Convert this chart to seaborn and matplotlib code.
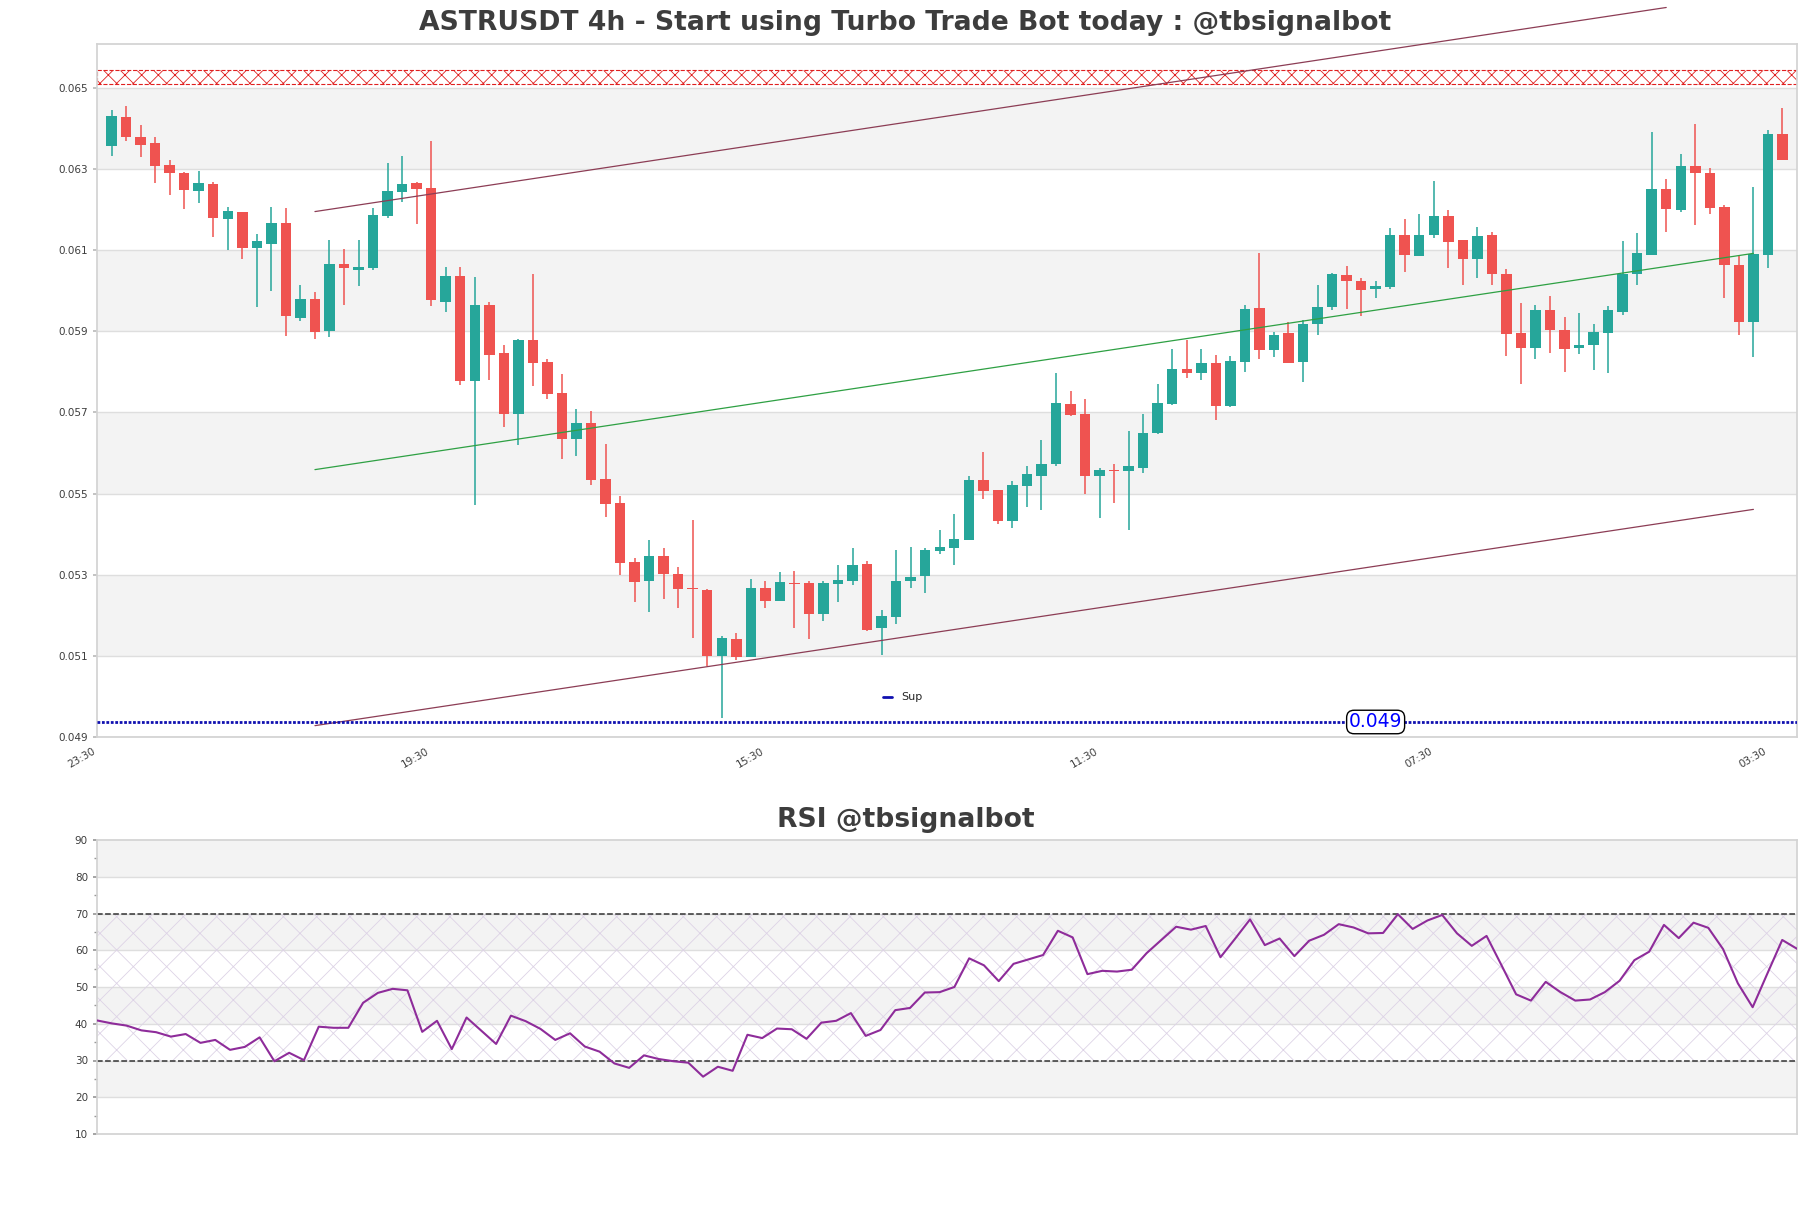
import numpy as np
import pandas as pd
import seaborn as sns
import matplotlib
matplotlib.use('Agg')
from matplotlib import pyplot as plt
from matplotlib.lines import Line2D
from matplotlib.ticker import MultipleLocator

# candles (4h)
opens = [0.06356, 0.06428, 0.06380, 0.06363, 0.06309, 0.06291, 0.06245, 0.06262, 0.06177, 0.06193,
         0.06104, 0.06114, 0.06166, 0.05933, 0.05979, 0.05900, 0.06065, 0.06051, 0.06055, 0.06184,
         0.06243, 0.06265, 0.06252, 0.05971, 0.06035, 0.05777, 0.05964, 0.05846, 0.05696, 0.05878,
         0.05824, 0.05747, 0.05635, 0.05674, 0.05536, 0.05477, 0.05332, 0.05284, 0.05346, 0.05301,
         0.05268, 0.05263, 0.05100, 0.05142, 0.05096, 0.05267, 0.05235, 0.05280, 0.05280, 0.05204,
         0.05278, 0.05284, 0.05326, 0.05168, 0.05195, 0.05284, 0.05296, 0.05359, 0.05367, 0.05386,
         0.05534, 0.05508, 0.05433, 0.05518, 0.05543, 0.05572, 0.05721, 0.05696, 0.05544, 0.05559,
         0.05556, 0.05564, 0.05650, 0.05721, 0.05807, 0.05796, 0.05822, 0.05715, 0.05825, 0.05957,
         0.05855, 0.05896, 0.05825, 0.05917, 0.05960, 0.06038, 0.06025, 0.06003, 0.06009, 0.06138,
         0.06086, 0.06138, 0.06183, 0.06124, 0.06078, 0.06138, 0.06042, 0.05896, 0.05859, 0.05952,
         0.05902, 0.05859, 0.05867, 0.05896, 0.05948, 0.06042, 0.06089, 0.06250, 0.06198, 0.06307,
         0.06291, 0.06206, 0.06064, 0.05922, 0.06088, 0.06385]
highs = [0.06446, 0.06456, 0.06408, 0.06378, 0.06322, 0.06293, 0.06295, 0.06267, 0.06206, 0.06195,
         0.06139, 0.06206, 0.06203, 0.06015, 0.05998, 0.06126, 0.06103, 0.06126, 0.06203, 0.06314,
         0.06333, 0.06267, 0.06368, 0.06058, 0.06058, 0.06033, 0.05971, 0.05865, 0.05882, 0.06040,
         0.05831, 0.05795, 0.05708, 0.05703, 0.05622, 0.05495, 0.05342, 0.05386, 0.05366, 0.05320,
         0.05435, 0.05265, 0.05150, 0.05157, 0.05289, 0.05285, 0.05306, 0.05310, 0.05284, 0.05285,
         0.05324, 0.05365, 0.05334, 0.05213, 0.05362, 0.05369, 0.05366, 0.05410, 0.05450, 0.05543,
         0.05603, 0.05510, 0.05531, 0.05569, 0.05632, 0.05798, 0.05752, 0.05732, 0.05562, 0.05572,
         0.05654, 0.05696, 0.05769, 0.05856, 0.05878, 0.05856, 0.05841, 0.05839, 0.05964, 0.06094,
         0.05899, 0.05922, 0.05928, 0.06014, 0.06044, 0.06062, 0.06032, 0.06024, 0.06155, 0.06176,
         0.06188, 0.06271, 0.06198, 0.06126, 0.06158, 0.06145, 0.06053, 0.05969, 0.05964, 0.05987,
         0.05935, 0.05945, 0.05918, 0.05962, 0.06122, 0.06142, 0.06390, 0.06275, 0.06336, 0.06412,
         0.06303, 0.06210, 0.06088, 0.06255, 0.06396, 0.06451]
lows = [0.06333, 0.06370, 0.06329, 0.06265, 0.06237, 0.06201, 0.06215, 0.06132, 0.06100, 0.06077,
        0.05959, 0.05999, 0.05889, 0.05926, 0.05880, 0.05886, 0.05964, 0.06011, 0.06051, 0.06178,
        0.06219, 0.06164, 0.05962, 0.05948, 0.05768, 0.05473, 0.05781, 0.05665, 0.05619, 0.05766,
        0.05732, 0.05584, 0.05593, 0.05520, 0.05441, 0.05300, 0.05232, 0.05207, 0.05240, 0.05217,
        0.05144, 0.05075, 0.04948, 0.05089, 0.05096, 0.05219, 0.05235, 0.05168, 0.05141, 0.05185,
        0.05232, 0.05274, 0.05161, 0.05102, 0.05179, 0.05268, 0.05254, 0.05350, 0.05323, 0.05386,
        0.05487, 0.05424, 0.05414, 0.05468, 0.05460, 0.05569, 0.05690, 0.05498, 0.05439, 0.05476,
        0.05411, 0.05551, 0.05646, 0.05719, 0.05784, 0.05779, 0.05682, 0.05713, 0.05800, 0.05831,
        0.05836, 0.05821, 0.05776, 0.05891, 0.05952, 0.05955, 0.05938, 0.05982, 0.06005, 0.06045,
        0.06086, 0.06130, 0.06055, 0.06014, 0.06031, 0.06013, 0.05840, 0.05770, 0.05832, 0.05847,
        0.05800, 0.05845, 0.05804, 0.05797, 0.05941, 0.06013, 0.06087, 0.06144, 0.06193, 0.06163,
        0.06189, 0.05981, 0.05891, 0.05836, 0.06055, 0.06321]
closes = [0.06430, 0.06378, 0.06360, 0.06307, 0.06289, 0.06247, 0.06265, 0.06179, 0.06196, 0.06104,
          0.06122, 0.06166, 0.05937, 0.05979, 0.05898, 0.06067, 0.06056, 0.06058, 0.06186, 0.06245,
          0.06262, 0.06250, 0.05978, 0.06035, 0.05777, 0.05964, 0.05842, 0.05696, 0.05878, 0.05823,
          0.05746, 0.05635, 0.05674, 0.05534, 0.05475, 0.05330, 0.05281, 0.05346, 0.05301, 0.05266,
          0.05264, 0.05100, 0.05144, 0.05096, 0.05267, 0.05235, 0.05281, 0.05276, 0.05204, 0.05280,
          0.05287, 0.05324, 0.05164, 0.05197, 0.05285, 0.05295, 0.05362, 0.05369, 0.05388, 0.05534,
          0.05506, 0.05433, 0.05521, 0.05547, 0.05572, 0.05723, 0.05693, 0.05544, 0.05558, 0.05556,
          0.05567, 0.05650, 0.05723, 0.05807, 0.05796, 0.05822, 0.05715, 0.05826, 0.05954, 0.05855,
          0.05892, 0.05823, 0.05918, 0.05960, 0.06041, 0.06023, 0.06001, 0.06011, 0.06138, 0.06088,
          0.06138, 0.06183, 0.06121, 0.06078, 0.06136, 0.06040, 0.05893, 0.05859, 0.05952, 0.05902,
          0.05857, 0.05865, 0.05898, 0.05952, 0.06042, 0.06092, 0.06250, 0.06201, 0.06307, 0.06290,
          0.06203, 0.06064, 0.05922, 0.06090, 0.06385, 0.06323]

rsi = [40.9, 40.1, 39.5, 38.2, 37.7, 36.5, 37.2, 34.8, 35.6, 32.9, 33.7, 36.3, 29.8, 32.1, 30.1,
       39.2, 38.9, 38.9, 45.7, 48.4, 49.5, 49.1, 37.8, 40.8, 33.1, 41.7, 38.1, 34.5, 42.2, 40.7,
       38.6, 35.6, 37.4, 33.8, 32.4, 29.2, 28.0, 31.4, 30.4, 29.8, 29.4, 25.6, 28.3, 27.2, 37.0,
       36.1, 38.7, 38.5, 35.9, 40.3, 40.8, 42.9, 36.7, 38.3, 43.7, 44.3, 48.5,
       48.6, 50.0, 57.8, 55.9, 51.6, 56.3, 57.5, 58.7, 65.3, 63.5, 53.5, 54.4, 54.2, 54.7, 59.2,
       62.8, 66.4, 65.6, 66.6, 58.1, 63.2, 68.4, 61.4, 63.2, 58.4, 62.6, 64.2, 67.1, 66.2, 64.6,
       64.7, 69.8, 65.8, 68.1, 69.6, 64.6, 61.2, 63.9, 56.0, 48.0, 46.3, 51.4, 48.6, 46.3, 46.6,
       48.6, 51.7, 57.3, 59.6, 66.9, 63.3, 67.5, 66.1, 60.3, 51.0, 44.5, 53.7, 62.8, 60.4]

tick_pos = [-1, 22, 45, 68, 91, 114]
tick_labels = ['23:30', '19:30', '15:30', '11:30', '07:30', '03:30']

# channel lines: x ends and y ends
upper_x = [14, 107]
upper_line = [0.06195, 0.06698]
line_x = [14, 113]
mid_line = [0.05559, 0.06092]
lower_line = [0.04928, 0.05461]

sup_level = 0.04937
res_zone = [0.06509, 0.06545]

df = pd.DataFrame({'open': opens, 'high': highs, 'low': lows, 'close': closes})
df['x'] = np.arange(len(df))
df['up'] = df['close'] >= df['open']

sns.set_theme(style='white')
plt.rcParams['font.family'] = ['DejaVu Sans']
plt.rcParams['hatch.linewidth'] = 0.6

GREEN = '#26a69a'
RED = '#ef5350'
BAND = '#f3f3f3'
GRID = '#dedede'
TXT = '#3d3d3d'

fig = plt.figure(figsize=(18.11, 12.08), dpi=100)
ax = fig.add_axes([97 / 1811, 1 - 737 / 1208, 1700 / 1811, 693 / 1208])
ax2 = fig.add_axes([97 / 1811, 1 - 1134 / 1208, 1700 / 1811, 294 / 1208])

# --- price panel ---
ax.set_xlim(-1, 116)
ax.set_ylim(0.04900, 0.06608)
for lo in [0.051, 0.055, 0.059, 0.063]:
    ax.axhspan(lo, lo + 0.002, color=BAND, lw=0, zorder=0)
yt = np.arange(0.049, 0.0651, 0.002)
for y in yt:
    ax.axhline(y, color=GRID, lw=1, zorder=0.5)

cols = np.where(df['up'], GREEN, RED)
ax.vlines(df['x'], df['low'], df['high'], color=cols, lw=1.1, zorder=2)
body_lo = np.minimum(df['open'], df['close'])
body_h = np.maximum((df['close'] - df['open']).abs(), 0.00003)
ax.bar(df['x'], body_h, bottom=body_lo, width=0.72, color=cols, lw=0, zorder=3)

ax.plot(upper_x, upper_line, color='#8c3d55', lw=0.9, zorder=4, clip_on=False)
ax.plot(line_x, lower_line, color='#8c3d55', lw=0.9, zorder=4)
ax.plot(line_x, mid_line, color='#2ea043', lw=0.9, zorder=4)

ax.axhspan(res_zone[0], res_zone[1], facecolor='none', edgecolor='#e02020', hatch='xx',
           lw=0.8, ls='--', zorder=1)
ax.axhline(sup_level, color='#1010b0', lw=2, ls=(0, (1, 0.6)), zorder=5)
ax.text(87, sup_level, '0.049', color='blue', fontsize=13.5, ha='center', va='center', zorder=6,
        bbox=dict(boxstyle='round,pad=0.12,rounding_size=0.4', fc='white', ec='black', lw=1))
ax.legend(handles=[Line2D([], [], color='#1010b0', lw=2)], labels=['Sup'],
          loc='center', bbox_to_anchor=(0.474, 0.057), frameon=False, fontsize=8,
          handlelength=0.8, handletextpad=0.8)

ax.set_yticks(yt)
ax.set_yticklabels([f'{v:.3f}' for v in yt])
ax.set_xticks(tick_pos)
ax.set_xticklabels(tick_labels, rotation=30, ha='right')
ax.tick_params(axis='both', labelsize=7.5, labelcolor=TXT, length=3, color='#bbbbbb', left=True, bottom=False)
for s in ax.spines.values():
    s.set_color('#d3d3d3')
fig.text(0.5, 1 - 23 / 1208, 'ASTRUSDT 4h - Start using Turbo Trade Bot today : @tbsignalbot',
         fontsize=19.2, fontweight='bold', color=TXT, ha='center', va='center')

# --- RSI panel ---
ax2.set_xlim(0, len(rsi) - 1)
ax2.set_ylim(10, 90)
for lo in [20, 40, 60, 80]:
    ax2.axhspan(lo, lo + 10, color=BAND, lw=0, zorder=0)
for y in range(20, 90, 10):
    ax2.axhline(y, color=GRID, lw=1, zorder=0.5)
ax2.fill_between([0, len(rsi) - 1], 30, 70, facecolor='none', edgecolor='#ddd3e6',
                 hatch='x', lw=0, zorder=1)
ax2.axhline(30, color='#333333', lw=1.1, ls='--', zorder=2)
ax2.axhline(70, color='#333333', lw=1.1, ls='--', zorder=2)
sns.lineplot(x=np.arange(len(rsi)), y=rsi, ax=ax2, color='#8e2c9a', lw=1.5, zorder=3)
ax2.set_yticks(range(10, 91, 10))
ax2.yaxis.set_minor_locator(MultipleLocator(5))
ax2.set_xticks([])
ax2.tick_params(axis='y', which='both', labelsize=7.5, labelcolor=TXT, left=True,
                length=3, color='#999999')
ax2.tick_params(axis='y', which='minor', length=2)
for s in ax2.spines.values():
    s.set_color('#d3d3d3')
ax2.set_ylabel('')
fig.text(0.5, 1 - 820 / 1208, 'RSI @tbsignalbot', fontsize=19.2, fontweight='bold',
         color=TXT, ha='center', va='center')

fig.savefig('out.png', dpi=100)
